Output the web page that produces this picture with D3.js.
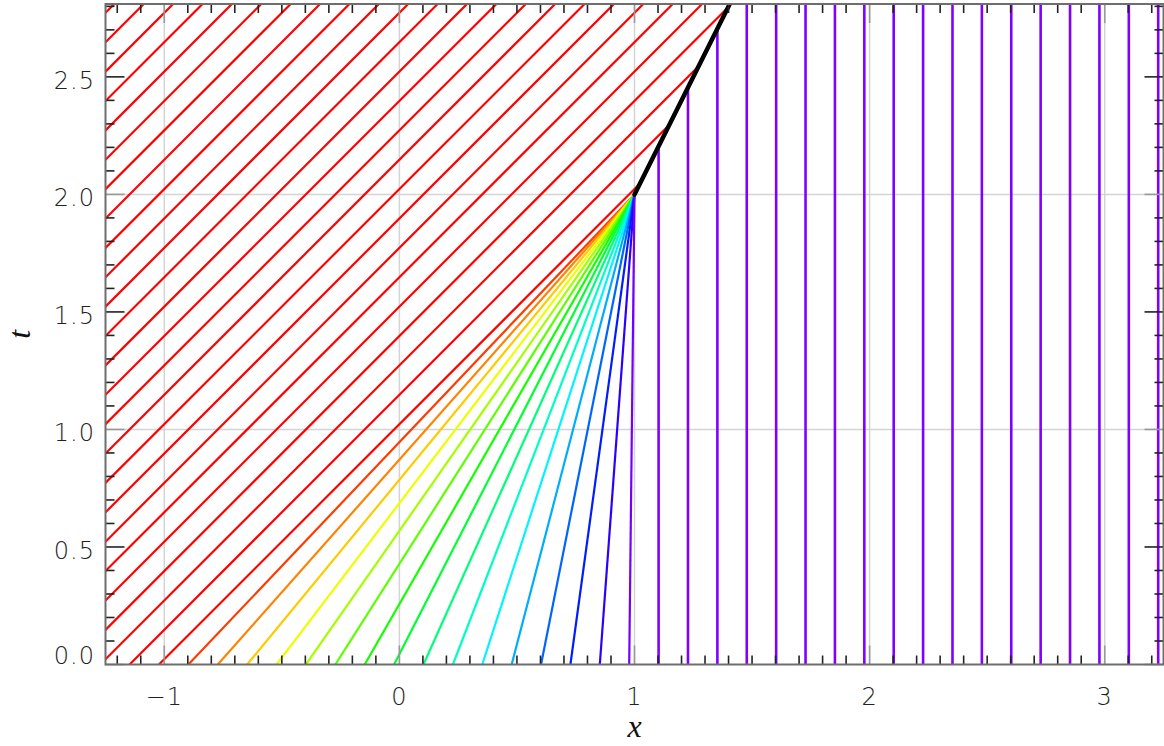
<!DOCTYPE html>
<html>
<head>
<meta charset="utf-8">
<script src="https://cdn.jsdelivr.net/npm/d3@7"></script>
<style>
  body { margin: 0; background: #ffffff; }
  svg { display: block; }
  .tick-label { font-family: "DejaVu Sans", sans-serif; font-weight: 200; font-size: 24px; fill: #222; letter-spacing: 1px; }
  .axis-title { font-family: "Liberation Serif", "DejaVu Serif", serif; font-style: italic; font-size: 32px; fill: #111; }
</style>
</head>
<body>
<svg id="chart" width="1164" height="746"></svg>
<script>
// Characteristics of Burgers' equation u_t + u u_x = 0.
// Starting points x0 at t = 0, grouped by the initial state there.
const leftStarts = [
  -4.0225, -3.8975, -3.7725, -3.6475, -3.5225, -3.3975, -3.2725, -3.1475,
  -3.0225, -2.8975, -2.7725, -2.6475, -2.5225, -2.3975, -2.2725, -2.1475,
  -2.0225, -1.8975, -1.7725, -1.6475, -1.5225, -1.3975, -1.2725, -1.1475,
  -1.0225
];
const leftSpeed = 1; // u0 = 1 left of the ramp

// Ramp region: speeds u0(x0) fan into the point where the shock forms
const fanStarts = [
  -0.8975, -0.7725, -0.6475, -0.5225, -0.3975, -0.2725, -0.1475, -0.0225,
   0.1025,  0.2275,  0.3525,  0.4775,  0.6025,  0.7275,  0.8525,  0.9775
];
const fanSpeeds = [
  0.94875, 0.88625, 0.82375, 0.76125, 0.69875, 0.63625, 0.57375, 0.51125,
  0.44875, 0.38625, 0.32375, 0.26125, 0.19875, 0.13625, 0.07375, 0.01125
];

const rightStarts = [
  1.1025, 1.2275, 1.3525, 1.4775, 1.6025, 1.7275, 1.8525, 1.9775, 2.1025,
  2.2275, 2.3525, 2.4775, 2.6025, 2.7275, 2.8525, 2.9775, 3.1025, 3.2275
];
const rightSpeed = 0; // u0 = 0 right of the ramp

// Shock: forms at (x, t) = (1, 2) and travels at (1 + 0) / 2
const shockX = 1, shockT = 2, shockSpeed = 0.5;

const xDomain = [-1.25, 3.25];
const tDomain = [0, 2.81];
const xTickValues = [-1, 0, 1, 2, 3];
const tTickValues = [0, 0.5, 1, 1.5, 2, 2.5];
const xGridValues = [-1, 0, 1, 2, 3];
const tGridValues = [1, 2];

// ---------------------------------------------------------------------
const svg = d3.select("#chart");
const m = { left: 105.5, right: 1163.5, top: 4, bottom: 664.5 };
const x = d3.scaleLinear().domain(xDomain).range([m.left, m.right]);
const y = d3.scaleLinear().domain(tDomain).range([m.bottom, m.top]);

svg.append("defs").append("clipPath").attr("id", "plot-clip")
  .append("rect")
  .attr("x", m.left).attr("y", m.top)
  .attr("width", m.right - m.left).attr("height", m.bottom - m.top);

// grid
const grid = svg.append("g").attr("stroke", "#d4d4d4").attr("stroke-width", 1.5);
grid.selectAll(".gx").data(xGridValues).join("line")
  .attr("x1", d => x(d)).attr("x2", d => x(d))
  .attr("y1", m.top).attr("y2", m.bottom);
grid.selectAll(".gy").data(tGridValues).join("line")
  .attr("y1", d => y(d)).attr("y2", d => y(d))
  .attr("x1", m.left).attr("x2", m.right);

// colour by the initial value u0: red for u0 = 1, violet for u0 = 0
const colorOf = u => d3.hsl(270 * (1 - u), 1, 0.5).formatHex();

// time at which a characteristic x = x0 + u t runs into the shock
const shockHitTime = (x0, u) => (x0 - shockX + shockSpeed * shockT) / (shockSpeed - u);

const chars = [];
leftStarts.forEach(x0 => {
  const tEnd = Math.min(tDomain[1] + 0.1, shockHitTime(x0, leftSpeed));
  chars.push({ x0, u: leftSpeed, tEnd });
});
fanStarts.forEach((x0, i) => {
  chars.push({ x0, u: fanSpeeds[i], tEnd: shockT });
});
rightStarts.forEach(x0 => {
  const tEnd = Math.min(tDomain[1] + 0.1, shockHitTime(x0, rightSpeed));
  chars.push({ x0, u: rightSpeed, tEnd });
});

const line = d3.line().x(d => x(d[0])).y(d => y(d[1]));

const plot = svg.append("g").attr("clip-path", "url(#plot-clip)");
plot.selectAll(".char").data(chars).join("path")
  .attr("fill", "none")
  .attr("stroke", d => colorOf(d.u))
  .attr("stroke-width", d => d.u === 0 ? 2.6 : 2.2)
  .attr("d", d => line([[d.x0, 0], [d.x0 + d.u * d.tEnd, d.tEnd]]));

// shock path
const shockTEnd = tDomain[1] + 0.05;
plot.append("path")
  .attr("fill", "none").attr("stroke", "#000").attr("stroke-width", 4.5)
  .attr("stroke-linecap", "round")
  .attr("d", line([[shockX, shockT], [shockX + shockSpeed * (shockTEnd - shockT), shockTEnd]]));

// axes box with inward ticks on all four sides
const axes = svg.append("g");
const minorX = d3.range(-12, 33).map(k => k / 10);
const minorT = d3.range(0, 29).map(k => k / 10);
const isMajorX = v => xTickValues.some(t => Math.abs(t - v) < 1e-6);
const isMajorT = v => Math.abs(v * 2 - Math.round(v * 2)) < 1e-6;
const isInteger = v => Math.abs(v - Math.round(v)) < 1e-6;
const tickColor = v => isInteger(v) ? "#999" : "#222";

// bottom and top
[[m.bottom, -1], [m.top, 1]].forEach(([yy, dir]) => {
  axes.append("g").selectAll("line").data(minorX).join("line")
    .attr("x1", d => x(d)).attr("x2", d => x(d))
    .attr("y1", yy).attr("y2", d => yy + dir * (isMajorX(d) ? 19 : 9))
    .attr("stroke", d => isMajorX(d) ? tickColor(d) : "#222")
    .attr("stroke-width", 1.6);
});
// left and right
[[m.left, 1], [m.right, -1]].forEach(([xx, dir]) => {
  axes.append("g").selectAll("line").data(minorT).join("line")
    .attr("y1", d => y(d)).attr("y2", d => y(d))
    .attr("x1", xx).attr("x2", d => xx + dir * (isMajorT(d) ? 19 : 9))
    .attr("stroke", d => isMajorT(d) ? tickColor(d) : "#222")
    .attr("stroke-width", 1.6);
});
axes.append("rect")
  .attr("x", m.left).attr("y", m.top)
  .attr("width", m.right - m.left).attr("height", m.bottom - m.top)
  .attr("fill", "none").attr("stroke", "#6e6e6e").attr("stroke-width", 2);

// tick labels
const fmtX = d3.format("d");
const fmtT = d3.format(".1f");
svg.append("g").selectAll("text").data(xTickValues).join("text")
  .attr("class", "tick-label")
  .attr("x", d => x(d)).attr("y", 705)
  .attr("text-anchor", "middle")
  .text(d => fmtX(d));
svg.append("g").selectAll("text").data(tTickValues).join("text")
  .attr("class", "tick-label")
  .attr("x", 95)
  .attr("y", d => d === 0 ? y(d) - 1 : y(d) + 12)
  .attr("text-anchor", "end")
  .text(d => fmtT(d));

// axis titles
svg.append("text").attr("class", "axis-title")
  .attr("x", (m.left + m.right) / 2).attr("y", 737)
  .attr("text-anchor", "middle").text("x");
svg.append("text").attr("class", "axis-title")
  .attr("transform", `translate(30, ${(m.top + m.bottom) / 2}) rotate(-90)`)
  .attr("text-anchor", "middle").text("t");
</script>
</body>
</html>
